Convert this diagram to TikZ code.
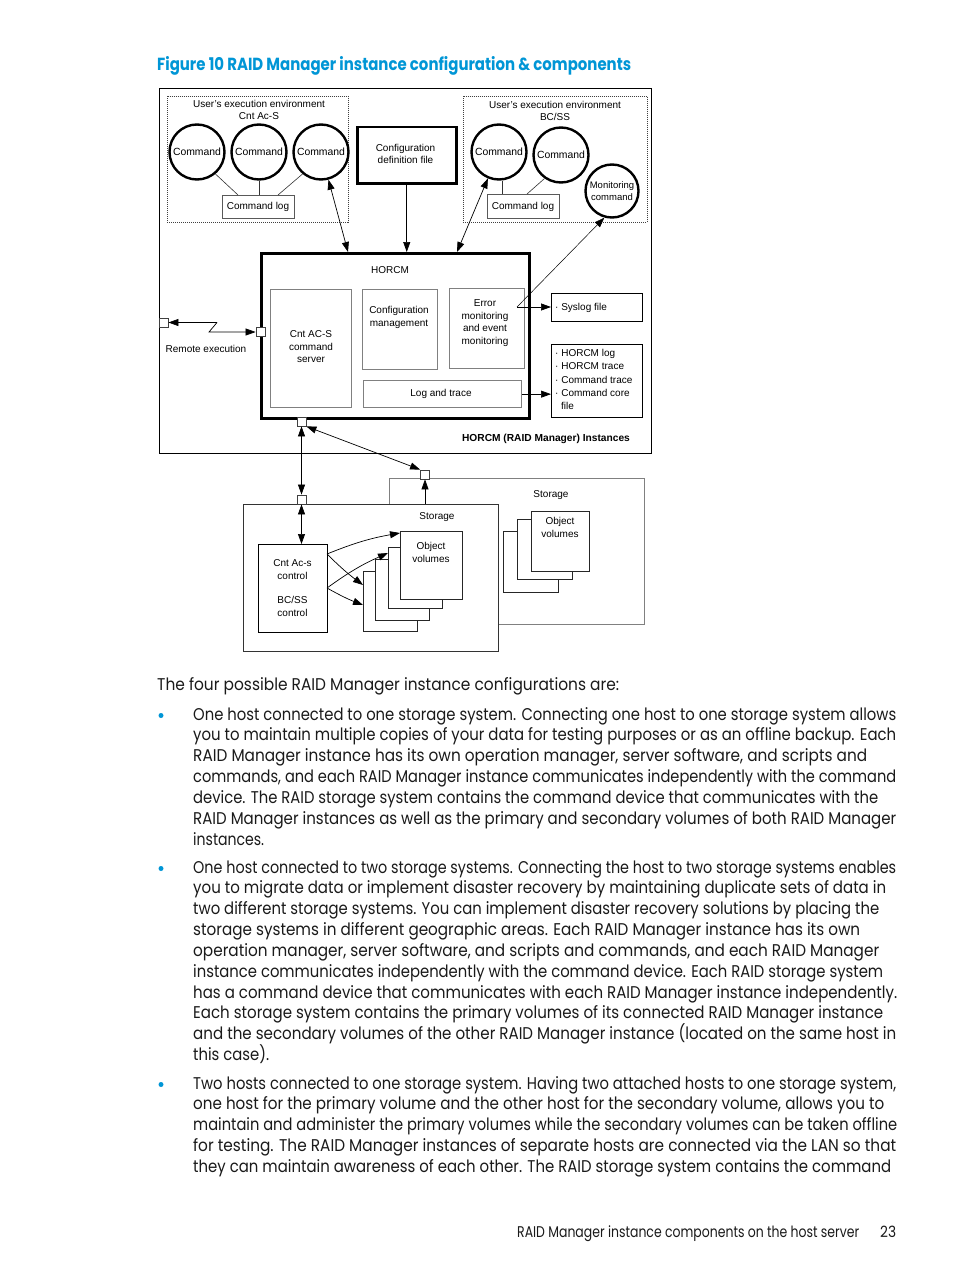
\documentclass[tikz,border=0pt]{standalone}
\usepackage{fontspec}
\usepackage{graphicx}
\usetikzlibrary{arrows.meta}
\setmainfont{Poppins}
\newfontfamily\dfont{Liberation Sans}
\definecolor{hpblue}{HTML}{0096D6}
\definecolor{bodytxt}{HTML}{1A1A1A}
\definecolor{boxgray}{HTML}{808080}
\newcommand\rbox[6]{\node[#6, anchor=north west, inner sep=0pt, minimum width={(#4-#2)*1pt}, minimum height={(#5-#3)*1pt}] (#1) at (#2,#3) {};}
\newcommand\lab[4][]{\node[dl,anchor=base,#1] (#2) at (#3) {#4};}
\newcommand\bl[4]{\node[anchor=base west, inner sep=0pt, text=bodytxt] (#1) at (#2) {\resizebox{#3pt}{\height}{\fontsize{17}{20}\selectfont #4}};}
\tikzset{
  dl/.style={font=\dfont\fontsize{10}{12.5}\selectfont, inner sep=0pt, align=center},
  cmdc/.style={circle, draw, line width=2.4pt, inner sep=0pt, minimum size=55pt, fill=white, font=\dfont\fontsize{10.4}{12}\selectfont, align=center},
  envd/.style={draw=black!75, line width=0.8pt, dash pattern=on 1pt off 1pt},
  logb/.style={draw=black!65, line width=1pt, fill=white},
  gbox/.style={draw=boxgray, line width=1.3pt},
  tbox/.style={draw, line width=0.9pt},
  vol/.style={draw=black!85, line width=0.9pt, fill=white},
  port/.style={draw=black!75, fill=white, line width=0.8pt, minimum size=9pt, inner sep=0pt},
  tip/.style={-{Triangle[length=10pt,width=7pt]}, line width=0.7pt},
  dtip/.style={{Triangle[length=10pt,width=7pt]}-{Triangle[length=10pt,width=7pt]}, line width=0.7pt},
  thin/.style={draw=black!80, line width=0.6pt},
  dot/.style={circle, fill=hpblue, minimum size=5pt, inner sep=0pt}
}
\begin{document}
\begin{tikzpicture}[x=1pt, y=-1pt]
\path[use as bounding box, fill=white] (0,0) rectangle (954,1271);

% title
\node[anchor=base west, inner sep=0pt, text=hpblue] (title) at (157,71) {\resizebox{474pt}{\height}{\bfseries\fontsize{17.5}{20}\selectfont Figure 10 RAID Manager instance configuration \& components}};

% ===== upper diagram =====
\rbox{outer}{159}{88}{651}{453}{draw, line width=1pt}
\rbox{envL}{167}{96}{348}{222}{envd}
\rbox{envR}{463}{96}{647}{222}{envd}
\lab{envLa}{259,107.6}{User’s execution environment}
\lab{envLb}{259,119.6}{Cnt Ac-S}
\lab{envRa}{555,108.6}{User’s execution environment}
\lab{envRb}{555,120.6}{BC/SS}

\rbox{clogL}{222}{195}{294}{218}{logb}
\lab{clogLt}{258,209}{Command log}
\rbox{clogR}{487}{194}{559}{218}{logb}
\lab{clogRt}{523,209}{Command log}

\node[cmdc] (c1) at (197,152) {Command};
\node[cmdc] (c2) at (259,152) {Command};
\node[cmdc] (c3) at (321,152) {Command};
\node[cmdc] (rc1) at (499,152) {Command};
\node[cmdc] (rc2) at (561,155) {Command};
\node[cmdc, minimum size=53pt, font=\dfont\fontsize{9.5}{11.5}\selectfont] (mon) at (612,191) {Monitoring\\command};

\draw[thin] (c1.-50) -- (clogL.north -| 238,0);
\draw[thin] (c2.south) -- (clogL.north -| c2.south);
\draw[thin] (c3.-130) -- (clogL.north -| 278,0);
\draw[thin] (rc1.-84) -- (rc1.-84 |- clogR.north);
\draw[thin] (rc2.-125) -- (clogR.north -| 527,0);

\rbox{cfg}{356}{126}{455}{182}{draw, line width=2.5pt}
\node[dl] (cfgt) at (405.5,154) {Configuration\\definition file};

\rbox{horcm}{260}{252}{528}{417}{draw, line width=3pt}
\lab{horcmt}{390,273.6}{HORCM}
\rbox{srv}{270}{289}{351}{407}{gbox}
\lab{srvt1}{311,337.6}{Cnt AC-S}
\lab{srvt2}{311,350.4}{command}
\lab{srvt3}{311,362.6}{server}
\rbox{cfgm}{362}{289}{437}{369}{gbox}
\lab{cfgmt1}{399,313.6}{Configuration}
\lab{cfgmt2}{399,326.4}{management}
\rbox{errm}{449}{288}{524}{368}{gbox}
\lab{errt1}{485,306.6}{Error}
\lab{errt2}{485,319.2}{monitoring}
\lab{errt3}{485,331.8}{and event}
\lab{errt4}{485,344.4}{monitoring}
\rbox{logtr}{363}{380}{521}{407}{gbox}
\lab{logtrt}{441,396}{Log and trace}

\rbox{sysl}{551}{293}{642}{321}{tbox}
\node[dl, anchor=base west] (syslt) at (555,310.6) {· Syslog file};
\rbox{hlog}{551}{344}{642}{417}{tbox}
\node[dl, anchor=base west] (hl1) at (555,356.6) {· HORCM log};
\node[dl, anchor=base west] (hl2) at (555,369.8) {· HORCM trace};
\node[dl, anchor=base west] (hl3) at (555,383.1) {· Command trace};
\node[dl, anchor=base west] (hl4) at (555,396.4) {· Command core};
\node[dl, anchor=base west] (hl5) at (561,409.6) {file};

\lab[font=\dfont\bfseries\fontsize{10.2}{12}\selectfont]{capt}{546,441.6}{HORCM (RAID Manager) Instances}
\lab{remt}{206,352.6}{Remote execution}

\coordinate (hin1) at (348,252);
\coordinate (hin2) at (457,252);
\coordinate (jn) at (517,307);
\coordinate (zA) at (217,322.5);
\coordinate (zB) at (209,332);

\draw[tip] (cfg.south) -- (cfg.south |- horcm.north);
\draw[dtip] (c3) -- (hin1);
\draw[dtip] (rc1) -- (hin2);
\draw[tip, line width=0.5pt] (jn) -- (mon.-106);
\draw[tip] (jn) -- (jn -| sysl.west);
\draw[tip] (logtr.east) -- (logtr.east -| hlog.west);

\node[port] (s1) at (163.5,322.5) {};
\node[port] (s2) at (260.5,332) {};
\node[port] (s3) at (301.5,421.5) {};
\draw[tip] (zA) -- (zA -| s1.east);
\draw[tip] (zA) -- (zB) -- (zB -| s2.west);

% ===== storage =====
\rbox{bstor}{389}{478}{644}{624}{draw=boxgray, line width=1.2pt, fill=white}
\lab{bstort}{551,497.6}{Storage}
\rbox{bv3}{503}{531}{558}{592}{vol}
\rbox{bv2}{517}{519}{572}{579}{vol}
\rbox{bv1}{531}{511}{589}{571}{vol}
\lab{bv1t1}{560,524.6}{Object}
\lab{bv1t2}{560,537.4}{volumes}

\rbox{fstor}{243}{504}{498}{651}{draw=black!80, line width=0.9pt, fill=white}
\lab{fstort}{437,519.6}{Storage}
\rbox{fv4}{363}{571}{417}{631}{vol}
\rbox{fv3}{375}{559}{429}{620}{vol}
\rbox{fv2}{388}{547}{442}{608}{vol}
\rbox{fv1}{400}{531}{462}{599}{vol}
\lab{fv1t1}{431,549.6}{Object}
\lab{fv1t2}{431,562}{volumes}

\rbox{ctrl}{258}{544}{327}{632}{tbox}
\lab{ct1}{292.5,566.6}{Cnt Ac-s}
\lab{ct2}{292.5,579.6}{control}
\lab{ct3}{292.5,603.6}{BC/SS}
\lab{ct4}{292.5,616.6}{control}

\node[port] (s4) at (301.5,499.5) {};
\node[port] (s5) at (425,474.5) {};

\draw[dtip] (s3.south) -- (s4.north);
\draw[dtip] (s4.south) -- (s4.south |- ctrl.north);
\draw[dtip] (s3.south east) -- (s5.north west);
\draw[tip] (s5.south |- fstor.north) -- (s5.south);

\coordinate (ca) at (327,554);
\coordinate (cb) at (327,588);
\draw[tip] (ca) to[bend left=6] (fv1.west |- 0,533);
\draw[tip] (ca) to[bend right=4] (fv4.west |- 0,585);
\draw[tip] (cb) to[bend left=6] (fv2.west |- 0,553);
\draw[tip] (cb) to[bend right=4] (fv4.west |- 0,605);

% ===== body text =====
\bl{intro}{157,690}{462}{The four possible RAID Manager instance configurations are:}

\node[dot] (d1) at (161,715.5) {};
\bl{a1}{193,720}{703}{One host connected to one storage system. Connecting one host to one storage system allows}
\bl{a2}{193,740.85}{703}{you to maintain multiple copies of your data for testing purposes or as an offline backup. Each}
\bl{a3}{193,761.7}{674}{RAID Manager instance has its own operation manager, server software, and scripts and}
\bl{a4}{193,782.55}{703}{commands, and each RAID Manager instance communicates independently with the command}
\bl{a5}{193,803.4}{685}{device. The RAID storage system contains the command device that communicates with the}
\bl{a6}{193,824.25}{703}{RAID Manager instances as well as the primary and secondary volumes of both RAID Manager}
\bl{a7}{193,845.1}{71}{instances.}

\node[dot] (d2) at (161,868.5) {};
\bl{b1}{193,873}{703}{One host connected to two storage systems. Connecting the host to two storage systems enables}
\bl{b2}{193,893.85}{693}{you to migrate data or implement disaster recovery by maintaining duplicate sets of data in}
\bl{b3}{193,914.7}{686}{two different storage systems. You can implement disaster recovery solutions by placing the}
\bl{b4}{193,935.55}{667}{storage systems in different geographic areas. Each RAID Manager instance has its own}
\bl{b5}{193,956.4}{686}{operation manager, server software, and scripts and commands, and each RAID Manager}
\bl{b6}{193,977.25}{690}{instance communicates independently with the command device. Each RAID storage system}
\bl{b7}{193,998.1}{704}{has a command device that communicates with each RAID Manager instance independently.}
\bl{b8}{193,1018.95}{690}{Each storage system contains the primary volumes of its connected RAID Manager instance}
\bl{b9}{193,1039.8}{703}{and the secondary volumes of the other RAID Manager instance (located on the same host in}
\bl{b10}{193,1060.65}{76}{this case).}

\node[dot] (d3) at (161,1084.5) {};
\bl{c1l}{193,1089}{703}{Two hosts connected to one storage system. Having two attached hosts to one storage system,}
\bl{c2l}{193,1109.85}{691}{one host for the primary volume and the other host for the secondary volume, allows you to}
\bl{c3l}{193,1130.7}{704}{maintain and administer the primary volumes while the secondary volumes can be taken offline}
\bl{c4l}{193,1151.55}{703}{for testing. The RAID Manager instances of separate hosts are connected via the LAN so that}
\bl{c5l}{193,1172.4}{698}{they can maintain awareness of each other. The RAID storage system contains the command}

\node[anchor=base west, inner sep=0pt, text=bodytxt] (foot) at (517,1237) {\resizebox{342pt}{\height}{\fontsize{15.5}{18}\selectfont RAID Manager instance components on the host server}};
\node[anchor=base west, inner sep=0pt, text=bodytxt] (pnum) at (880,1237) {\resizebox{16pt}{\height}{\fontsize{15.5}{18}\selectfont 23}};
\end{tikzpicture}
\end{document}
